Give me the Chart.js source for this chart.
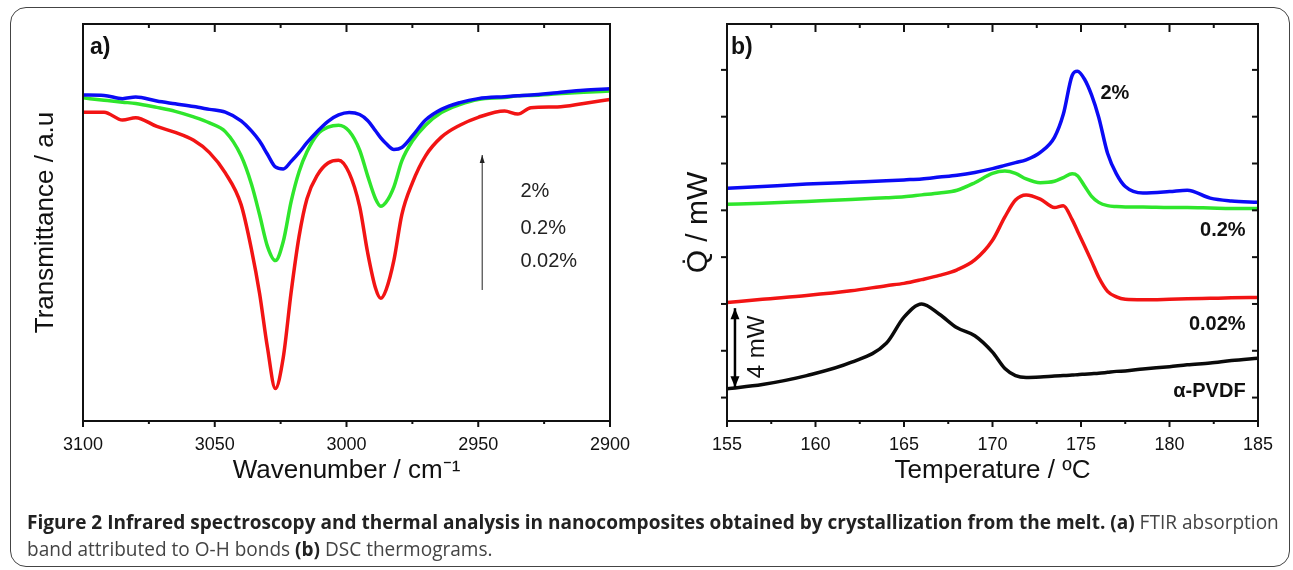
<!DOCTYPE html>
<html>
<head>
<meta charset="utf-8">
<script src="https://cdn.jsdelivr.net/npm/chart.js@4/dist/chart.umd.min.js"></script>
<style>
  body { margin: 0; background: #fff; width: 1293px; height: 570px; overflow: hidden; position: relative; }
  #frame { position: absolute; left: 10px; top: 7px; width: 1280px; height: 560px; box-sizing: border-box;
           border: 1.5px solid #444; border-radius: 16px; }
  canvas { position: absolute; left: 0; top: 0; }
  #caption { position: absolute; left: 27px; top: 509px; font-family: "Open Sans", sans-serif; font-size: 17px;
             line-height: 27px; color: #444; white-space: nowrap; }
  #caption b { color: #222; }
</style>
</head>
<body>
<div id="frame"></div>
<canvas id="ftir" width="1293" height="570"></canvas>
<canvas id="dsc" width="1293" height="570"></canvas>
<div id="caption"><span id="cap1"><b>Figure 2 Infrared spectroscopy and thermal analysis in nanocomposites obtained by crystallization from the melt. (a)</b> FTIR absorption</span><br>band attributed to O-H bonds <b>(b)</b> DSC thermograms.</div>
<script>
// (a) FTIR, transmittance in % of plot height
const ftirWave = [3100, 3092, 3085, 3080, 3072, 3065, 3058, 3052, 3046, 3040, 3036, 3033, 3030, 3027, 3024, 3021, 3018, 3015, 3011, 3007,
                  3003, 2999, 2995, 2992, 2989, 2987, 2985, 2982, 2979, 2975, 2970, 2964, 2957, 2950, 2940, 2935, 2930, 2920, 2910, 2900];
const ftir2 =   [82.1, 82.0, 81.2, 81.6, 80.6, 79.9, 79.2, 78.5, 77.8, 75.6, 73.0, 70.5, 67.2, 64.0, 63.5, 65.4, 67.6, 70.1, 73.0, 75.5,
                 77.1, 77.7, 77.2, 75.7, 73.1, 71.3, 69.9, 68.4, 68.9, 71.8, 75.8, 78.5, 80.2, 81.2, 81.7, 81.9, 82.1, 82.7, 83.3, 83.7];
const ftir02 =  [81.4, 80.8, 80.3, 80.0, 79.0, 78.0, 76.6, 75.1, 72.9, 66.8, 59.5, 52.0, 44.0, 40.4, 45.2, 55.3, 62.8, 67.8, 72.2, 74.0,
                 74.5, 73.0, 68.2, 61.8, 56.0, 54.1, 55.1, 59.0, 65.5, 70.5, 74.5, 77.7, 79.7, 81.0, 81.5, 81.9, 82.0, 82.4, 82.8, 83.1];
const ftir002 = [77.8, 77.8, 75.8, 76.4, 74.2, 72.7, 70.7, 67.6, 62.5, 54.5, 43.0, 32.2, 18.5, 8.2, 16.0, 32.5, 46.5, 56.0, 62.0, 65.0,
                 65.7, 62.5, 54.0, 42.5, 33.5, 30.9, 33.0, 40.5, 52.0, 60.0, 66.8, 71.5, 74.5, 76.5, 78.1, 77.3, 78.9, 79.1, 80.0, 81.0];
const ftirTicks = [3100, 3050, 3000, 2950, 2900];
const ftirMinor = [3075, 3025, 2975, 2925];

// (b) DSC, heat flow in tick units
const dscTemp = [155, 157, 159.5, 162, 164, 165, 166, 167, 168, 169, 170, 170.7, 171.3, 171.9, 172.7, 173.5, 174, 174.5, 174.8, 175.2,
                 175.6, 176, 176.5, 177, 177.5, 178.5, 180, 181, 182.3, 183.5, 185];
const dsc2 =    [4.47, 4.51, 4.56, 4.60, 4.63, 4.65, 4.67, 4.71, 4.75, 4.81, 4.89, 4.96, 5.02, 5.08, 5.24, 5.56, 6.05, 6.88, 6.97, 6.80,
                 6.46, 5.99, 5.22, 4.78, 4.51, 4.37, 4.40, 4.43, 4.26, 4.20, 4.17];
const dsc02 =   [4.13, 4.15, 4.19, 4.23, 4.27, 4.29, 4.33, 4.37, 4.43, 4.59, 4.79, 4.84, 4.79, 4.67, 4.59, 4.62, 4.70, 4.78, 4.74, 4.52,
                 4.30, 4.17, 4.10, 4.08, 4.07, 4.07, 4.06, 4.06, 4.05, 4.04, 4.04];
const dsc002 =  [2.03, 2.10, 2.18, 2.28, 2.39, 2.44, 2.52, 2.61, 2.73, 2.94, 3.36, 3.86, 4.22, 4.33, 4.24, 4.06, 4.10, 3.80, 3.56, 3.24,
                 2.91, 2.57, 2.27, 2.15, 2.10, 2.09, 2.10, 2.11, 2.12, 2.13, 2.14];
const dscPVDF = [0.19, 0.28, 0.47, 0.75, 1.16, 1.72, 2.00, 1.78, 1.49, 1.32, 0.97, 0.62, 0.47, 0.43, 0.44, 0.46, 0.47, 0.48, 0.49, 0.50,
                 0.51, 0.52, 0.54, 0.56, 0.57, 0.61, 0.66, 0.70, 0.74, 0.79, 0.84];
const tempTicks = [155, 160, 165, 170, 175, 180, 185];
const tempMinor = [157.5, 162.5, 167.5, 172.5, 177.5, 182.5];
const dscYTicks = [0, 1, 2, 3, 4, 5, 6, 7];

const BLUE = '#0b0bf5', GREEN = '#2fe62c', RED = '#f21414', BLACK = '#0a0a0a';
const AXFONT = '"Liberation Sans", Arial, sans-serif';

// axis box + major/minor tick marks
const boxTicks = {
  id: 'boxTicks',
  afterDatasetsDraw(chart, args, o) {
    const { ctx, chartArea: a, scales: { x, y } } = chart;
    ctx.save();
    ctx.strokeStyle = '#111';
    ctx.lineWidth = 2;
    ctx.strokeRect(a.left, a.top, a.right - a.left, a.bottom - a.top);
    const tick = (px, py, dx, dy) => { ctx.beginPath(); ctx.moveTo(px, py); ctx.lineTo(px + dx, py + dy); ctx.stroke(); };
    o.xMajor.forEach(v => { const p = x.getPixelForValue(v); tick(p, a.bottom, 0, 6); tick(p, a.top, 0, 8); });
    o.xMinor.forEach(v => { const p = x.getPixelForValue(v); tick(p, a.bottom, 0, 3); tick(p, a.top, 0, 4); });
    (o.yMajor || []).forEach(v => { const p = y.getPixelForValue(v); tick(a.left, p, -6, 0); tick(a.right, p, -6, 0); });
    ctx.restore();
  }
};

// text labels and arrows placed in data coordinates
const notes = {
  id: 'notes',
  afterDatasetsDraw(chart, args, o) {
    const { ctx, chartArea: a, scales: { x, y } } = chart;
    ctx.save();
    ctx.fillStyle = '#111';
    ctx.font = 'bold 23px ' + AXFONT;
    ctx.textBaseline = 'alphabetic';
    ctx.fillText(o.panel, a.left + o.panelDx, a.top + 30);
    (o.arrows || []).forEach(ar => {
      const px = x.getPixelForValue(ar.x), y1 = y.getPixelForValue(ar.y1), y2 = y.getPixelForValue(ar.y2);
      ctx.strokeStyle = ctx.fillStyle = ar.color;
      ctx.lineWidth = ar.width;
      ctx.beginPath(); ctx.moveTo(px, y1); ctx.lineTo(px, y2); ctx.stroke();
      const head = (yy, dir) => {
        ctx.beginPath();
        ctx.moveTo(px, yy);
        ctx.lineTo(px - ar.hw, yy + dir * ar.hl);
        ctx.lineTo(px + ar.hw, yy + dir * ar.hl);
        ctx.closePath(); ctx.fill();
      };
      head(y2, 1);
      if (ar.both) head(y1, -1);
    });
    (o.texts || []).forEach(t => {
      ctx.fillStyle = t.color || '#111';
      ctx.font = t.font;
      ctx.textAlign = t.align || 'left';
      ctx.textBaseline = 'middle';
      const px = x.getPixelForValue(t.x), py = y.getPixelForValue(t.y);
      if (t.rotate) {
        ctx.save(); ctx.translate(px, py); ctx.rotate(t.rotate); ctx.fillText(t.text, 0, 0); ctx.restore();
      } else {
        ctx.fillText(t.text, px, py);
      }
    });
    ctx.restore();
  }
};

function line(xs, ys, color) {
  return {
    data: xs.map((v, i) => ({ x: v, y: ys[i] })),
    borderColor: color, borderWidth: 3.5, pointRadius: 0,
    cubicInterpolationMode: 'monotone', fill: false
  };
}

function panel(id, datasets, pad, yWidth, xOpts, yOpts, plug) {
  return new Chart(document.getElementById(id), {
    type: 'line',
    data: { datasets },
    plugins: [boxTicks, notes],
    options: {
      responsive: false, animation: false,
      layout: { padding: pad },
      plugins: { legend: { display: false }, tooltip: { enabled: false }, boxTicks: plug.ticks, notes: plug.notes },
      scales: {
        x: Object.assign({
          type: 'linear',
          grid: { display: false, drawTicks: false },
          border: { display: false },
          ticks: { font: { family: AXFONT, size: 18 }, color: '#111', padding: 13, callback: v => String(v) },
          afterFit: s => { s.height = 149; }
        }, xOpts),
        y: Object.assign({
          type: 'linear',
          grid: { display: false, drawTicks: false },
          border: { display: false },
          ticks: { display: false },
          afterFit: s => { s.width = yWidth; }
        }, yOpts)
      }
    }
  });
}

panel('ftir',
  [line(ftirWave, ftir2, BLUE), line(ftirWave, ftir02, GREEN), line(ftirWave, ftir002, RED)],
  { left: 0, top: 24, right: 683, bottom: 0 }, 83,
  {
    min: 2900, max: 3100, reverse: true,
    afterBuildTicks: s => { s.ticks = ftirTicks.map(v => ({ value: v })); },
    title: { display: true, text: 'Wavenumber / cm\u207B\u00B9', font: { family: AXFONT, size: 26 }, color: '#111', padding: { bottom: 84 } }
  },
  {
    min: 0, max: 100,
    title: { display: true, text: 'Transmittance / a.u', font: { family: AXFONT, size: 26 }, color: '#111', padding: { top: 30 } }
  },
  {
    ticks: { xMajor: ftirTicks, xMinor: ftirMinor },
    notes: {
      panel: 'a)', panelDx: 7,
      arrows: [{ x: 2948.5, y1: 33, y2: 67, color: '#222', width: 1, hw: 2.5, hl: 8 }],
      texts: [
        { x: 2934, y: 57.7, text: '2%', font: '20px ' + AXFONT, color: '#222' },
        { x: 2934, y: 48.6, text: '0.2%', font: '20px ' + AXFONT, color: '#222' },
        { x: 2934, y: 40.3, text: '0.02%', font: '20px ' + AXFONT, color: '#222' }
      ]
    }
  });

panel('dsc',
  [line(dscTemp, dsc2, BLUE), line(dscTemp, dsc02, GREEN), line(dscTemp, dsc002, RED), line(dscTemp, dscPVDF, BLACK)],
  { left: 640, top: 24, right: 35, bottom: 0 }, 87,
  {
    min: 155, max: 185,
    afterBuildTicks: s => { s.ticks = tempTicks.map(v => ({ value: v })); },
    title: { display: true, text: 'Temperature / \u00BAC', font: { family: AXFONT, size: 26 }, color: '#111', padding: { bottom: 84 } }
  },
  {
    min: -0.5, max: 7.98,
    title: { display: true, text: 'Q\u0307 / mW', font: { family: AXFONT, size: 30 }, color: '#111', padding: { top: 41 } }
  },
  {
    ticks: { xMajor: tempTicks, xMinor: tempMinor, yMajor: dscYTicks },
    notes: {
      panel: 'b)', panelDx: 4,
      arrows: [{ x: 155.45, y1: 0.22, y2: 1.91, color: '#000', width: 2.5, hw: 4.5, hl: 11, both: true }],
      texts: [
        { x: 176.1, y: 6.5, text: '2%', font: 'bold 20px ' + AXFONT },
        { x: 184.3, y: 3.56, text: '0.2%', font: 'bold 20px ' + AXFONT, align: 'right' },
        { x: 184.3, y: 1.57, text: '0.02%', font: 'bold 20px ' + AXFONT, align: 'right' },
        { x: 184.3, y: 0.14, text: '\u03B1-PVDF', font: 'bold 20px ' + AXFONT, align: 'right' },
        { x: 156.7, y: 1.08, text: '4 mW', font: '24px ' + AXFONT, align: 'center', rotate: -Math.PI / 2 }
      ]
    }
  });

// fit the first caption line to the frame width
const cap = document.getElementById('caption');
const w1 = document.getElementById('cap1').getBoundingClientRect().width;
cap.style.fontSize = (17 * 1253 / w1).toFixed(2) + 'px';
</script>
</body>
</html>
